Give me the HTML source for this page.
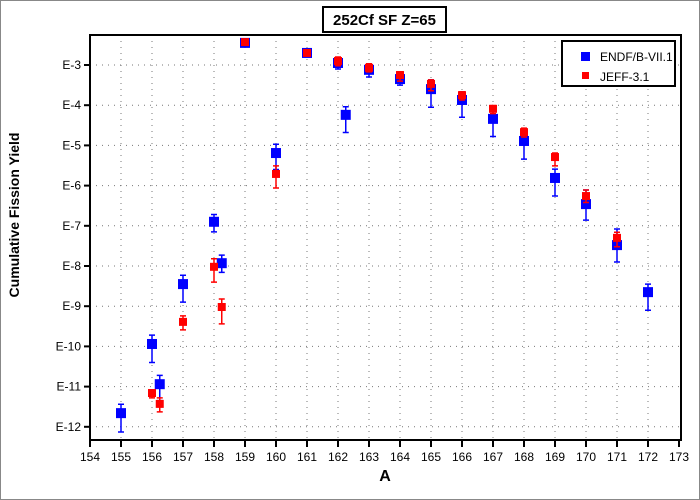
<!DOCTYPE html>
<html><head><meta charset="utf-8"><style>
body{margin:0;background:#fff;}
svg{display:block;font-family:"Liberation Sans",sans-serif;}
</style></head><body>
<svg id="chart" width="700" height="500">
<rect x="0.5" y="0.5" width="699" height="499" fill="#fff" stroke="#888"/>
<g id="grid"></g>
<rect x="90" y="35" width="591" height="405" fill="none" stroke="#000" stroke-width="2"/>
<g id="axes"></g>
<g id="marks"></g>
<rect x="323" y="7" width="123" height="25" fill="#fff" stroke="#000" stroke-width="2"/>
<text x="384.5" y="25" text-anchor="middle" font-size="15" font-weight="bold">252Cf SF Z=65</text>
<text x="385" y="481" text-anchor="middle" font-size="16" font-weight="bold">A</text>
<text transform="translate(19,215) rotate(-90)" text-anchor="middle" font-size="14" font-weight="bold">Cumulative Fission Yield</text>
<g>
<rect x="562" y="41" width="113" height="45" fill="#fff" stroke="#000" stroke-width="2"/>
<rect x="581" y="52" width="9" height="9" fill="#0000ff"/>
<text x="600" y="61" font-size="12">ENDF/B-VII.1</text>
<rect x="582" y="72" width="7" height="7" fill="#ff0000"/>
<text x="600" y="81" font-size="12">JEFF-3.1</text>
</g>
</svg>
<script>
const xTicks=[154,155,156,157,158,159,160,161,162,163,164,165,166,167,168,169,170,171,172,173];
const yTicks=[-3,-4,-5,-6,-7,-8,-9,-10,-11,-12];
const yTickLabels=["E-3","E-4","E-5","E-6","E-7","E-8","E-9","E-10","E-11","E-12"];
const endfA=[155,156,156.25,157,158,158.25,159,160,161,162,162.25,163,164,165,166,167,168,169,170,171,172];
const endfLog=[-11.66,-9.94,-10.94,-8.45,-6.9,-7.93,-2.45,-5.19,-2.7,-2.95,-4.24,-3.12,-3.35,-3.6,-3.87,-4.34,-4.89,-5.81,-6.46,-7.48,-8.65];
const endfHi=[-11.44,-9.72,-10.72,-8.23,-6.72,-7.73,-2.45,-4.97,-2.7,-2.87,-4.04,-2.97,-3.25,-3.37,-3.67,-4.11,-4.59,-5.59,-6.11,-7.08,-8.45];
const endfLo=[-12.13,-10.4,-11.35,-8.9,-7.15,-8.16,-2.45,-5.6,-2.7,-3.1,-4.68,-3.3,-3.5,-4.05,-4.3,-4.78,-5.34,-6.26,-6.86,-7.9,-9.1];
const jeffA=[156,156.25,157,158,158.25,159,160,161,162,163,164,165,166,167,168,169,170,171];
const jeffLog=[-11.16,-11.43,-9.39,-8.02,-9.02,-2.43,-5.71,-2.7,-2.9,-3.07,-3.25,-3.47,-3.75,-4.09,-4.67,-5.29,-6.26,-7.3];
const jeffHi=[-11.11,-11.28,-9.24,-7.82,-8.82,-2.43,-5.51,-2.7,-2.8,-2.97,-3.17,-3.37,-3.67,-4.01,-4.57,-5.19,-6.11,-7.16];
const jeffLo=[-11.28,-11.63,-9.59,-8.4,-9.44,-2.43,-6.06,-2.7,-3.02,-3.17,-3.4,-3.64,-3.87,-4.21,-4.79,-5.51,-6.42,-7.52];
const NS='http://www.w3.org/2000/svg';
const x=a=>90+(a-154)*31;
const y=l=>65+(-3-l)*40.2;
function mk(tag,attrs,parent){const e=document.createElementNS(NS,tag);for(const k in attrs)e.setAttribute(k,attrs[k]);parent.appendChild(e);return e;}
const grid=document.getElementById('grid'),axes=document.getElementById('axes'),marks=document.getElementById('marks');
xTicks.forEach(t=>{
  if(t>154&&t<173){const g=mk('line',{x1:x(t),x2:x(t),y1:35,y2:440,stroke:'#777','stroke-dasharray':'1,5'},grid);
  
  }
  const tk=mk('line',{x1:x(t),x2:x(t),y1:440,y2:447,stroke:'#000','stroke-width':2},axes);
  
  
  const lb=mk('text',{x:x(t),y:461,'text-anchor':'middle','font-size':12},axes);
  lb.textContent=t;
  
  
});
yTicks.forEach((t,i)=>{
  const g=mk('line',{x1:90,x2:681,y1:y(t),y2:y(t),stroke:'#777','stroke-dasharray':'1,5'},grid);
  
  
  const tk=mk('line',{x1:84,x2:90,y1:y(t),y2:y(t),stroke:'#000','stroke-width':2},axes);
  
  
  const lb=mk('text',{x:81,y:y(t)+4,'text-anchor':'end','font-size':12},axes);
  lb.textContent=yTickLabels[i];
  
  
});
function series(A,L,H,Lo,color,size,name){
  A.forEach((a,i)=>{
    const cx=x(a),cy=Math.max(y(L[i]),40);
    if(H[i]!==Lo[i]){
      const p=mk('path',{d:`M${cx},${y(H[i])}V${y(Lo[i])}M${cx-3},${y(H[i])}H${cx+3}M${cx-3},${y(Lo[i])}H${cx+3}`,stroke:color,'stroke-width':1.5,fill:'none'},marks);
      
      
    }
    const r=mk('rect',{x:cx-size/2,y:cy-size/2,width:size,height:size,fill:color},marks);
    
    
  });
}
series(endfA,endfLog,endfHi,endfLo,'#0000ff',10,'endf');
series(jeffA,jeffLog,jeffHi,jeffLo,'#ff0000',8,'jeff');
</script>
</body></html>
